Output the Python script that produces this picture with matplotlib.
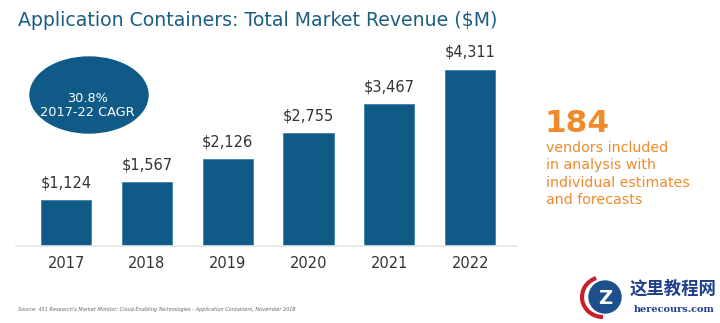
import matplotlib
matplotlib.use("Agg")
import matplotlib.pyplot as plt
from matplotlib.patches import Ellipse, Arc

years = ["2017", "2018", "2019", "2020", "2021", "2022"]
revenue = [1124, 1567, 2126, 2755, 3467, 4311]
value_labels = ["$1,124", "$1,567", "$2,126", "$2,755", "$3,467", "$4,311"]

W, H = 720, 323
fig = plt.figure(figsize=(W / 100, H / 100), dpi=100)
fig.patch.set_facecolor("white")

def fx(px):
    return px / W

def fy(py):
    return 1 - py / H

BAR = "#0f5a87"
ax = fig.add_axes([fx(16), fy(246), (517 - 16) / W, (246 - 40) / H])
x = list(range(len(years)))
ax.bar(x, revenue, width=0.62, color=BAR, edgecolor="#3f7fa6", linewidth=0.6, zorder=2)
ax.set_xlim(-0.62, 5.58)
ax.set_ylim(0, 5037)
for s in ["top", "right", "left"]:
    ax.spines[s].set_visible(False)
ax.spines["bottom"].set_color("#e6e6e6")
ax.spines["bottom"].set_linewidth(1.2)
ax.set_yticks([])
ax.set_xticks(x)
ax.set_xticklabels(years, fontsize=10.5, color="#333333")
ax.tick_params(axis="x", length=0, pad=7)
for xi, v, lab in zip(x, revenue, value_labels):
    ax.annotate(lab, (xi, v), xytext=(0, 7), textcoords="offset points",
                ha="center", va="bottom", fontsize=10.5, color="#333333")

# Title
fig.text(fx(18), fy(20), "Application Containers: Total Market Revenue ($M)",
         fontsize=13.6, color="#1d5f82", ha="left", va="center")

# CAGR ellipse
ov = fig.add_axes([0, 0, 1, 1], zorder=5)
ov.set_xlim(0, W)
ov.set_ylim(H, 0)
ov.axis("off")
ov.add_patch(Ellipse((89, 95), 118, 76, color=BAR))
ov.text(87, 98, "30.8%", ha="center", va="center", color="white", fontsize=9.3)
ov.text(87, 112, "2017-22 CAGR", ha="center", va="center", color="white", fontsize=9.3)

# Right side callout
ORANGE = "#f08a2a"
ov.text(545, 123, "184", ha="left", va="center", color=ORANGE, fontsize=22.5, fontweight="bold")
lines = ["vendors included", "in analysis with", "individual estimates", "and forecasts"]
for i, ln in enumerate(lines):
    ov.text(546, 148 + i * 17.5, ln, ha="left", va="center", color=ORANGE, fontsize=10.2)

# Source
ov.text(18, 309, "Source: 451 Research's Market Monitor: Cloud-Enabling Technologies - Application Containers, November 2018",
        ha="left", va="center", color="#666666", fontsize=3.6, style="italic")

# Watermark
ov.add_patch(Ellipse((605, 297), 32, 32, color="#1d4f8c"))
ov.add_patch(Arc((603, 297), 42, 40, theta1=90, theta2=250, color="#c8202a", lw=3))
ov.text(605, 298, "Z", ha="center", va="center", color="white", fontsize=14, fontweight="bold")
ov.text(630, 289, "这里教程网", ha="left", va="center", color="#1d3f8c", fontsize=12.5,
        family=["Noto Sans CJK SC", "DejaVu Sans"], fontweight="bold")
ov.text(634, 310, "herecours.com", ha="left", va="center", color="#1d3f8c", fontsize=7,
        family=["DejaVu Serif"], fontweight="bold")

fig.savefig("out.png", dpi=100)
